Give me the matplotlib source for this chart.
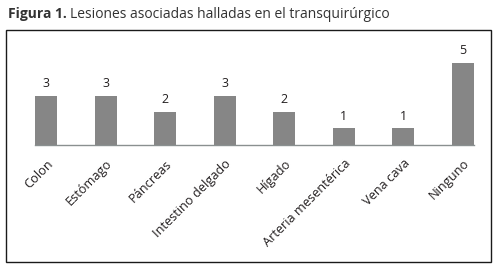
import matplotlib
matplotlib.use('Agg')
import matplotlib.pyplot as plt
from matplotlib.patches import Rectangle

# Datos
categorias = ['Colon', 'Estómago', 'Páncreas', 'Intestino delgado', 'Hígado',
              'Arteria mesentérica', 'Vena cava', 'Ninguno']
valores = [3, 3, 2, 3, 2, 1, 1, 5]

plt.rcParams['font.family'] = ['Open Sans', 'DejaVu Sans']
texto = '#231f20'

fig = plt.figure(figsize=(5, 2.7), dpi=100)
W, H = 500, 270

# Marco
fig.patches.append(Rectangle((6 / W, 1 - 262 / H), 485 / W, 232 / H,
                             transform=fig.transFigure, fill=False,
                             edgecolor='#1a1a1a', linewidth=1.0))

ax = fig.add_axes([35 / W, 1 - 144.5 / H, 439 / W, 104.5 / H])
x = range(len(categorias))
barras = ax.bar(x, valores, width=0.37, color='#868686')
ax.set_xlim(-0.19, len(categorias) - 1 + 0.19)
ax.set_ylim(0, 6.41)

for b, v in zip(barras, valores):
    ax.annotate(str(v), (b.get_x() + b.get_width() / 2, v),
                xytext=(0, 4), textcoords='offset points',
                ha='center', va='bottom', fontsize=9, color=texto)

ax.set_xticks(list(x))
ax.set_xticklabels(categorias, rotation=45, ha='right', rotation_mode='anchor',
                   fontsize=9.2, color=texto)
ax.tick_params(axis='x', length=0, pad=9)
ax.set_yticks([])
for s in ['top', 'right', 'left']:
    ax.spines[s].set_visible(False)
ax.spines['bottom'].set_color('#8a9090')
ax.spines['bottom'].set_linewidth(1.0)

# Titulo
r = fig.canvas.get_renderer()
t1 = fig.text(8 / W, 1 - 14 / H, 'Figura 1.', fontsize=10, fontweight='bold',
              color='#333333', va='center', ha='left')
bb = t1.get_window_extent(renderer=r)
fig.text(bb.x1 / W + 3 / W, 1 - 14 / H, 'Lesiones asociadas halladas en el transquirúrgico',
         fontsize=10, color='#333333', va='center', ha='left')

fig.savefig('out.png', dpi=100)
